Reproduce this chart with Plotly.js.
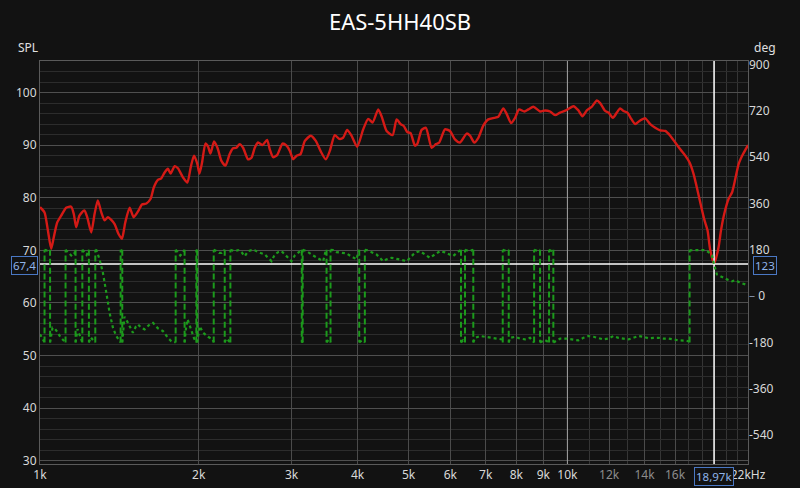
<!DOCTYPE html>
<html>
<head>
<meta charset="utf-8">
<script src="https://cdn.plot.ly/plotly-3.0.1.min.js"></script>
<style>
  html, body { margin: 0; padding: 0; background: #121212; }
  #chart { width: 800px; height: 488px; }
</style>
</head>
<body>
<div id="chart"></div>
<script>
// ---------------- DATA ----------------
const chartTitle = "EAS-5HH40SB";

// SPL magnitude (red)
const splFreq = [1000,1020,1035,1050,1062,1078,1097,1121,1146,1159,
  1171,1188,1214,1229,1251,1269,1287,1307,1326,1345,
  1365,1385,1409,1430,1451,1479,1505,1534,1561,1591,
  1621,1644,1673,1698,1723,1748,1769,1800,1826,1866,
  1903,1931,1959,1988,2006,2029,2059,2083,2105,2138,
  2170,2208,2247,2289,2323,2357,2391,2427,2480,2517,
  2554,2591,2641,2695,2727,2767,2815,2883,2934,2977,
  3020,3065,3119,3178,3262,3334,3403,3483,3544,3622,
  3691,3756,3823,3896,3994,4100,4191,4272,4378,4443,
  4541,4662,4744,4828,4898,4969,5043,5139,5191,5291,
  5392,5528,5633,5715,5859,5988,6120,6256,6442,6536,
  6660,6778,6927,7080,7268,7396,7559,7674,7819,7957,
  8097,8287,8433,8620,8875,9071,9273,9478,9685,9931,
  10266,10493,10678,10884,11125,11371,11537,11791,11962,12195,
  12410,12589,12772,12998,13192,13444,13700,14045,14355,14673,
  14997,15328,15667,16013,16367,16729,17048,17350,17657,17945,
  18197,18437,18659,18970,19348,19553,19840,20215,20518,20815,
  21118,21528,22005];
const splDb = [78.2,77.2,73.8,70.3,72.5,75.3,76.6,78.1,78.3,76.9,
  74.4,76.6,77.6,76.3,73.4,76.9,79.5,77.2,75.7,76.3,
  75.8,75.0,73.1,72.2,75.3,78.1,76.3,77.4,78.7,78.9,
  79.8,82.0,83.4,83.7,84.8,85.5,84.6,86.0,85.6,83.9,
  82.9,85.8,88.0,86.4,84.6,86.7,90.3,89.7,88.4,90.7,
  89.5,87.0,86.1,88.3,89.4,89.5,90.2,89.5,87.3,87.6,
  89.5,90.5,90.0,91.0,89.2,87.7,88.1,90.3,89.9,88.9,
  87.3,88.0,88.3,90.8,91.8,90.8,88.9,87.3,88.9,91.9,
  91.2,91.4,92.9,91.8,89.7,93.0,95.0,94.3,96.8,95.5,
  92.7,91.9,94.9,94.0,93.6,92.5,92.3,89.9,90.2,92.9,
  93.3,89.5,90.2,90.5,93.0,92.7,91.1,90.5,92.2,91.8,
  90.5,91.4,93.7,94.9,95.2,95.4,97.0,95.9,94.2,95.2,
  96.8,96.4,96.8,97.3,96.4,96.6,96.4,95.7,96.2,96.6,
  97.4,96.6,95.5,96.6,97.3,98.5,98.0,96.5,96.2,95.2,
  96.2,97.0,96.5,96.2,95.1,94.0,94.6,95.1,94.0,93.3,
  92.8,92.7,91.8,90.5,89.2,88.0,86.7,84.5,81.3,78.2,
  75.7,73.8,70.0,67.4,70.6,73.8,77.0,79.8,81.0,83.6,
  86.4,88.3,90.0];

// Phase (green), wrapped to +/-180; a repeated frequency marks a wrap
const phaseFreq = [1000,1011,1020, 1020,1032,1045, 1045,1056,1066,1075,1094,1110,1118,
  1118,1133,1150,1162,1168, 1168,1178,1191,1203, 1203,1214,1226,1238,
  1238,1248,1262,1273, 1273,1280,1297,1316,1336,1355,1375,1395,1416,1422,
  1422,1427,1432, 1432,1446,1465,1479,1500,1520,1534,1556,1579,1614,1638,1673,1711,1748,1774,1808,
  1808,1825,1845,1865,1880, 1880,1890,1905,1920,1939,1960,1979,
  1979,1983,1986, 1986,2008,2038,2083,2125,2135,
  2135,2160,2185,2211,2230,2240, 2240,2255,2270,2296,
  2296,2307,2340,2374,2410,2445,2480,2517,2554,2591,2630,2668,2706,2748,2787,2828,2870,2912,2954,2998,3042,3086,3136,
  3136,3142,3148, 3148,3201,3295,3393,3443,3475,3494, 3494,3524,3555,
  3555,3595,3649,3702,3756,3813,3868,3925,3984,4012,4030, 4030,4078,4130,
  4130,4161,4253,4346,4410,4474,4542,4642,4744,4851,4958,5030,5102,5178,5254,5369,5487,5608,5733,5859,5988,6074,6165,6257,6284,
  6284,6339,6395, 6395,6507,6631,
  6631,6681,6829,6979,7133,7290,7507,7540, 7540,7640,7740,
  7740,7785,7957,8133,8312,8496,8647, 8647,8761,8875, 8875,9050,9230, 9230,9311,9405,
  9405,9685,9974,10266,10493,10724,10961,11203,11451,11704,11962,12227,12497,12772,13054,13343,13637,13939,14246,14561,14883,15212,15548,15891,16242,16729,16969,17048,
  17048,17096,17474,17860,18246,18514,18798,18970,19071,19213,19492,19777,20073,20518,20815,21275,21745,22020];
const phaseDeg = [-148,-165,-180, 180,177,180, -180,-123,-126,-135,-160,-172,-180,
  180,168,155,165,180, -180,-128,-155,-180, 180,170,160,180,
  -180,-160,-172,-180, 180,178,143,91,13,-65,-123,-155,-175,-180,
  180,176,180, -180,-80,-100,-117,-142,-118,-110,-123,-129,-110,-104,-125,-136,-162,-175,-180,
  180,172,158,168,180, -180,-130,-90,-110,-140,-165,-180,
  180,176,180, -180,-117,-142,-158,-168,-180,
  180,176,168,168,176,180, -180,-165,-170,-180,
  180,179,175,179,171,155,175,179,178,171,166,162,149,136,162,171,175,162,149,136,158,169,180,
  -180,-177,-180, 180,175,158,143,136,170,180, -180,-170,-180,
  180,179,171,169,166,166,158,149,143,170,180, -180,-172,-180,
  180,179,171,162,149,136,143,149,145,140,136,149,162,171,175,162,149,162,175,170,162,156,168,178,180,
  -180,-172,-180, 180,175,180,
  -180,-162,-155,-158,-162,-165,-168,-180, 180,176,180,
  -180,-162,-158,-165,-168,-162,-180, 180,176,180, -180,-170,-180, 180,176,180,
  -180,-165,-165,-168,-172,-162,-155,-158,-164,-168,-165,-155,-162,-165,-168,-162,-155,-158,-164,-162,-162,-165,-165,-168,-172,-173,-175,-180,
  180,178,179,180,179,171,158,123,110,84,78,71,65,58,62,52,45,42];

// Cursor
const cursorFreq = 18970;
const cursorSpl = 67.4;
const cursorPhase = 123;
const cursorLabels = { spl: "67,4", phase: "123", freq: "18,97k" };

// Axes
const freqRange = [1000, 22000];
const splRange = [29.37, 106];
const phaseRange = [-652.5, 914];
const xTickVals = [1000,2000,3000,4000,5000,6000,7000,8000,9000,10000,12000,14000,16000,22000];
const xTickText = ["1k","2k","3k","4k","5k","6k","7k","8k","9k","10k",
  '<span style="color:#8c8c8c">12k</span>','<span style="color:#8c8c8c">14k</span>','<span style="color:#8c8c8c">16k</span>',"22kHz"];
const xMinorVals = [11000,13000,15000,17000,18000,19000,20000,21000];
const brightGridFreq = 10000;
const yTickVals = [30,40,50,60,70,80,90,100];
const y2TickVals = [-540,-360,-180,0,180,360,540,720,900];
const y2TickText = ["-540","-360","-180",'<span style="color:#7d8ba3">–</span> 0',"180","360","540","720","900"];

// ---------------- BUILD ----------------
const dotX = [], dotY = [], dashX = [], dashY = [];
for (let i = 0; i < phaseFreq.length; i++) {
  dotX.push(phaseFreq[i]); dotY.push(phaseDeg[i]);
  if (i + 1 < phaseFreq.length && phaseFreq[i + 1] === phaseFreq[i] &&
      Math.abs(phaseDeg[i + 1] - phaseDeg[i]) >= 300) {
    dotX.push(null); dotY.push(null);
    dashX.push(phaseFreq[i], phaseFreq[i + 1], null);
    dashY.push(phaseDeg[i], phaseDeg[i + 1], null);
  }
}

const FONT = '"Noto Sans", "Open Sans", "DejaVu Sans", sans-serif';
const green = '#1c9a1c';

const traces = [
  { x: [brightGridFreq, brightGridFreq], y: splRange, mode: 'lines', yaxis: 'y',
    line: { color: '#a0a0a0', width: 1 }, hoverinfo: 'skip', showlegend: false },
  { x: dotX, y: dotY, yaxis: 'y2', mode: 'lines', connectgaps: false,
    line: { color: green, width: 2.2, dash: 'dot' }, showlegend: false },
  { x: dashX, y: dashY, yaxis: 'y2', mode: 'lines', connectgaps: false,
    line: { color: green, width: 2, dash: '6px,3px' }, showlegend: false },
  { x: splFreq, y: splDb, yaxis: 'y', mode: 'lines',
    line: { color: '#d41a16', width: 2.4, shape: 'spline', smoothing: 0.6 }, showlegend: false },
  { x: freqRange, y: [cursorSpl, cursorSpl], yaxis: 'y', mode: 'lines',
    line: { color: '#ffffff', width: 1.5 }, showlegend: false },
  { x: [cursorFreq, cursorFreq], y: splRange, yaxis: 'y', mode: 'lines',
    line: { color: '#ffffff', width: 1.5 }, showlegend: false }
];

const boxStyle = { bgcolor: '#121212', bordercolor: '#4a78c4', borderwidth: 1, borderpad: 1,
  font: { family: FONT, size: 11.5, color: '#8fb4ea' }, showarrow: false };

const layout = {
  width: 800, height: 488,
  paper_bgcolor: '#121212', plot_bgcolor: '#121212',
  margin: { l: 40, r: 52, t: 61, b: 24 },
  showlegend: false,
  title: { text: chartTitle, x: 0.5, xanchor: 'center', y: 1 - 22 / 488, yanchor: 'middle',
    yref: 'container', font: { family: FONT, size: 22, color: '#ffffff' } },
  xaxis: {
    type: 'log', range: [Math.log10(freqRange[0]), Math.log10(freqRange[1])],
    tickmode: 'array', tickvals: xTickVals, ticktext: xTickText,
    tickfont: { family: FONT, size: 12, color: '#d8d8d8' },
    showgrid: true, gridcolor: '#4b4b4b', gridwidth: 1,
    minor: { tickmode: 'array', tickvals: xMinorVals, showgrid: true, gridcolor: '#353535', ticks: '' },
    showline: true, linecolor: '#5a5a5a', linewidth: 1, mirror: true,
    ticks: '', zeroline: false, fixedrange: true
  },
  yaxis: {
    range: splRange, tickmode: 'array', tickvals: yTickVals,
    tickfont: { family: FONT, size: 12, color: '#d8d8d8' },
    showgrid: true, gridcolor: '#4f4f4f', gridwidth: 1,
    minor: { dtick: 2, tick0: 30, showgrid: true, gridcolor: '#2c2c2c', ticks: '' },
    showline: true, linecolor: '#5a5a5a', linewidth: 1, mirror: true,
    ticks: '', zeroline: false, fixedrange: true
  },
  yaxis2: {
    overlaying: 'y', side: 'right', range: phaseRange,
    tickmode: 'array', tickvals: y2TickVals, ticktext: y2TickText,
    tickfont: { family: FONT, size: 12, color: '#d8d8d8' },
    showgrid: false, zeroline: false, showline: false, ticks: '', fixedrange: true
  },
  annotations: [
    { text: 'SPL', xref: 'paper', yref: 'paper', x: 0, y: 1, xanchor: 'center', yanchor: 'bottom',
      xshift: -12, yshift: 3, showarrow: false, font: { family: FONT, size: 12, color: '#e0e0e0' } },
    { text: 'deg', xref: 'paper', yref: 'paper', x: 1, y: 1, xanchor: 'center', yanchor: 'bottom',
      xshift: 17, yshift: 3, showarrow: false, font: { family: FONT, size: 12, color: '#e0e0e0' } },
    Object.assign({ text: cursorLabels.spl, xref: 'paper', yref: 'y', x: 0, y: cursorSpl,
      xanchor: 'right', yanchor: 'middle', xshift: -2, yshift: -1 }, boxStyle),
    Object.assign({ text: cursorLabels.phase, xref: 'paper', yref: 'y2', x: 1, y: cursorPhase,
      xanchor: 'left', yanchor: 'middle', xshift: 5, yshift: -1 }, boxStyle),
    Object.assign({ text: cursorLabels.freq, xref: 'x', yref: 'paper', x: Math.log10(cursorFreq), y: 0,
      xanchor: 'center', yanchor: 'top', yshift: -3 }, boxStyle)
  ]
};

Plotly.newPlot('chart', traces, layout, { staticPlot: true, displayModeBar: false });
</script>
</body>
</html>
